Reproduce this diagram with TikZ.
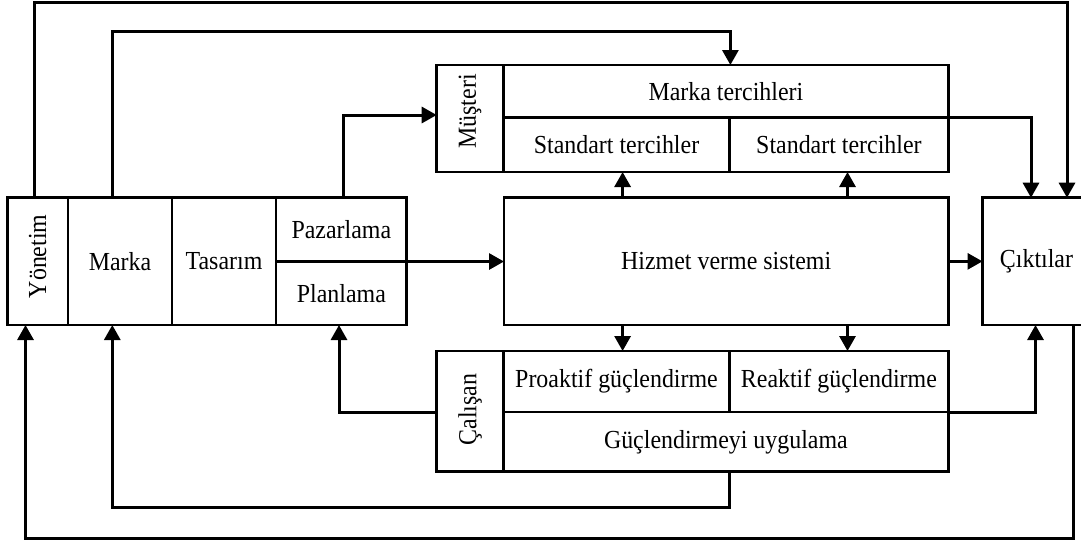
\documentclass[tikz,border=0pt]{standalone}
\usepackage{fontspec}
\setmainfont{Liberation Serif}[FakeStretch=0.92]
\usetikzlibrary{fit,arrows.meta}
\begin{document}
\begin{tikzpicture}[x=0.5pt,y=-0.5pt,
  txt/.style={font=\fontsize{13}{15}\selectfont},
  cell/.style={draw, line width=1.3pt, inner sep=0pt, outer sep=0pt},
  lab/.style={inner sep=0pt, txt},
  vlab/.style={rotate=90, inner sep=0pt, txt},
  conn/.style={line width=1.5pt, -{Triangle[length=7.5pt,width=8pt]}}
]
\useasboundingbox (0,0) rectangle (1081,543);
% left block
\node[cell, fit={(7.3,197.7) (68,325)}, label={[vlab,xshift=2.5pt]center:Yönetim}] (yon) {};
\node[cell, fit={(68,197.7) (172,325)}, label={[lab]center:Marka}] (mar) {};
\node[cell, fit={(172,197.7) (276,325)}, label={[lab]center:Tasarım}] (tas) {};
\node[cell, fit={(276,197.7) (406.7,261.5)}, label={[lab]center:Pazarlama}] (paz) {};
\node[cell, fit={(276,261.5) (406.7,325)}, label={[lab]center:Planlama}] (pla) {};
% centre and right
\node[cell, fit={(504,197.7) (948.3,325)}, label={[lab]center:Hizmet verme sistemi}] (hiz) {};
\node[cell, fit={(982.5,197.7) (1091,325)}] (cik) {};
\node[lab] (cikt) at (1036.5,261.4) {Çıktılar};
% Müşteri block
\node[cell, fit={(436.7,65) (503.5,172)}, label={[vlab,xshift=3.5pt]center:Müşteri}] (mus) {};
\node[cell, fit={(503.5,65) (948.3,117.7)}, label={[lab]center:Marka tercihleri}] (mt) {};
\node[cell, fit={(503.5,117.7) (729.5,172)}, label={[lab]center:Standart tercihler}] (st1) {};
\node[cell, fit={(729.5,117.7) (948.3,172)}, label={[lab]center:Standart tercihler}] (st2) {};
% Çalışan block
\node[cell, fit={(436.7,351) (503.5,471.7)}, label={[vlab,xshift=1pt]center:Çalışan}] (cal) {};
\node[cell, fit={(503.5,351) (729.5,412)}, label={[lab]center:Proaktif güçlendirme}] (pro) {};
\node[cell, fit={(729.5,351) (948.3,412)}, label={[lab]center:Reaktif güçlendirme}] (rea) {};
\node[cell, fit={(503.5,412) (948.3,471.7)}, label={[lab]center:Güçlendirmeyi uygulama}] (guc) {};
% corner coordinates
\coordinate (a1) at (34.5,2.5);   \coordinate (a2) at (1067,2.5);
\coordinate (b1) at (112.3,31.5); \coordinate (b2) at (730.4,31.5);
\coordinate (c1) at (343.4,115);
\coordinate (v1) at (622.6,0);    \coordinate (v2) at (847.5,0);
\coordinate (d1) at (1031,117.7);
\coordinate (e1) at (1035.5,412);
\coordinate (f1) at (339,412.7);
\coordinate (g1) at (729.4,507.4); \coordinate (g2) at (112.3,507.4);
\coordinate (h1) at (1073.4,538);  \coordinate (h2) at (25.5,538);
% connectors
\draw[conn] (a1 |- yon.north) -- (a1) -- (a2) -- (a2 |- cik.north);
\draw[conn] (b1 |- mar.north) -- (b1) -- (b2) -- (b2 |- mt.north);
\draw[conn] (c1 |- paz.north) -- (c1) -- (c1 -| mus.west);
\draw[conn] (paz.south west) -- (paz.south west -| hiz.west);
\draw[conn] (hiz.east) -- (cik.west);
\draw[conn] (v1 |- hiz.north) -- (v1 |- st1.south);
\draw[conn] (v2 |- hiz.north) -- (v2 |- st2.south);
\draw[conn] (v1 |- hiz.south) -- (v1 |- pro.north);
\draw[conn] (v2 |- hiz.south) -- (v2 |- rea.north);
\draw[conn] (mt.south east) -- (d1) -- (d1 |- cik.north);
\draw[conn] (rea.south east) -- (e1) -- (e1 |- cik.south);
\draw[conn] (f1 -| cal.west) -- (f1) -- (f1 |- pla.south);
\draw[conn] (g1 |- guc.south) -- (g1) -- (g2) -- (g2 |- mar.south);
\draw[conn] (h1 |- cik.south) -- (h1) -- (h2) -- (h2 |- yon.south);
\end{tikzpicture}
\end{document}
